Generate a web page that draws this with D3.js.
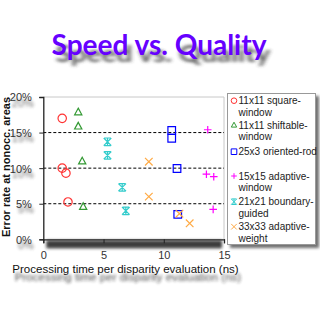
<!DOCTYPE html>
<html>
<head>
<meta charset="utf-8">
<script src="https://cdn.jsdelivr.net/npm/d3@7"></script>
<style>
  body { margin: 0; background: #fff; }
  svg { display: block; }
</style>
</head>
<body>
<div id="chart"></div>
<script>
// chart data
const seriesNames = ["11x11 square-window", "11x11 shiftable-window", "25x3 oriented-rod",
  "15x15 adaptive-window", "21x21 boundary-guided", "33x33 adaptive-weight"];
const legendLines = [["11x11 square-", "window"], ["11x11 shiftable-", "window"], ["25x3 oriented-rod", ""],
  ["15x15 adaptive-", "window"], ["21x21 boundary-", "guided"], ["33x33 adaptive-", "weight"]];
const squareWinX = [1.57, 1.57, 1.88, 2.05];
const squareWinY = [17.0, 10.0, 9.3, 5.25];
const shiftableX = [2.9, 2.9, 3.23, 3.31];
const shiftableY = [17.9, 15.9, 11.0, 4.6];
const orientedX = [10.66, 10.66, 11.1, 11.16];
const orientedY = [15.3, 14.2, 9.95, 3.5];
const adaptiveWinX = [13.65, 13.54, 14.15, 14.1];
const adaptiveWinY = [15.4, 9.15, 8.8, 4.2];
const boundaryX = [5.33, 5.33, 6.55, 6.85];
const boundaryY = [13.7, 11.8, 7.3, 4.0];
const weightX = [8.76, 8.76, 11.3, 12.15];
const weightY = [10.9, 6.0, 3.6, 2.25];
const xTicks = [0, 5, 10, 15];
const yTicks = [0, 5, 10, 15, 20];

const colors = ["#ff3333", "#339933", "#0000ff", "#ff00ff", "#33cccc", "#ffaa44"];
const xs = [squareWinX, shiftableX, orientedX, adaptiveWinX, boundaryX, weightX];
const ys = [squareWinY, shiftableY, orientedY, adaptiveWinY, boundaryY, weightY];

const W = 320, H = 320;
const plotLeft = 43.3, plotRight = 224, plotTop = 97, plotBottom = 239.3;
const font = "Liberation Sans, Arial, sans-serif";

const svg = d3.select("#chart").append("svg").attr("width", W).attr("height", H);
const defs = svg.append("defs");
const f1 = defs.append("filter").attr("id", "blur3").attr("x", "-20%").attr("y", "-50%").attr("width", "140%").attr("height", "200%");
f1.append("feGaussianBlur").attr("stdDeviation", 2.2);
const f2 = defs.append("filter").attr("id", "blur1").attr("x", "-20%").attr("y", "-50%").attr("width", "140%").attr("height", "200%");
f2.append("feGaussianBlur").attr("stdDeviation", 1.4);

const x = d3.scaleLinear().domain([0, 15]).range([plotLeft, plotRight]);
const y = d3.scaleLinear().domain([0, 20]).range([plotBottom, plotTop]);

// title with soft shadow
svg.append("text")
  .attr("x", 163).attr("y", 62)
  .attr("text-anchor", "middle")
  .attr("font-family", "Lato, sans-serif").attr("font-weight", "bold")
  .attr("font-size", 28).attr("fill", "#333")
  .attr("transform", "scale(1,0.8) translate(0,15)")
  .attr("filter", "url(#blur3)").attr("opacity", 0.8)
  .text("Speed vs. Quality");
svg.append("text")
  .attr("x", 159).attr("y", 55)
  .attr("text-anchor", "middle")
  .attr("font-family", "Lato, sans-serif").attr("font-weight", "bold")
  .attr("font-size", 28).attr("fill", "#6600ff")
  .text("Speed vs. Quality");

// plot shadow band
svg.append("rect").attr("x", plotLeft + 3).attr("y", plotBottom + 1).attr("width", plotRight - plotLeft - 5).attr("height", 8)
  .attr("fill", "#1a1a1a").attr("filter", "url(#blur1)").attr("opacity", 0.85);

// top and right border
svg.append("line").attr("x1", plotLeft).attr("x2", plotRight).attr("y1", plotTop).attr("y2", plotTop)
  .attr("stroke", "#c8c8c8").attr("stroke-width", 1);
svg.append("line").attr("x1", plotRight).attr("x2", plotRight).attr("y1", plotTop).attr("y2", plotBottom)
  .attr("stroke", "#c8c8c8").attr("stroke-width", 1);

// dashed gridlines
svg.append("g").selectAll("line").data(yTicks.filter(d => d > 0 && d < 20)).join("line")
  .attr("x1", plotLeft).attr("x2", plotRight)
  .attr("y1", d => y(d)).attr("y2", d => y(d))
  .attr("stroke", "#000").attr("stroke-dasharray", "3,2").attr("stroke-width", 1);

// axes
const yAxis = svg.append("g").attr("transform", `translate(${plotLeft},0)`)
  .call(d3.axisLeft(y).tickValues(yTicks).tickSize(4).tickFormat(d => d + "%"));
const xAxis = svg.append("g").attr("transform", `translate(0,${plotBottom})`)
  .call(d3.axisBottom(x).tickValues(xTicks).tickSize(4).tickFormat(d3.format("d")));
[xAxis, yAxis].forEach(g => {
  g.select(".domain").attr("stroke", "#222").attr("stroke-width", 1.3);
  g.selectAll(".tick line").attr("stroke", "#222");
  g.selectAll("text").attr("font-family", font)
    .attr("font-size", 11).attr("fill", "#333");
});
yAxis.selectAll("text").attr("x", -11.5).attr("dy", "0.35em");
xAxis.selectAll("text").attr("y", 12);

// blurred copies of tick labels
yAxis.selectAll(".tick").append("text").lower()
  .attr("x", -9.5).attr("y", 9).attr("text-anchor", "end")
  .attr("font-family", font).attr("font-size", 11)
  .attr("fill", "#333").attr("filter", "url(#blur1)").attr("opacity", 0.7)
  .text(d => d + "%");

// axis titles
const xTitle = "Processing time per disparity evaluation (ns)";
svg.append("text").attr("x", 128).attr("y", 281).attr("text-anchor", "middle")
  .attr("font-family", font).attr("font-size", 11.5)
  .attr("fill", "#222").attr("filter", "url(#blur1)").attr("opacity", 0.8).text(xTitle);
svg.append("text").attr("x", 125.5).attr("y", 273).attr("text-anchor", "middle")
  .attr("font-family", font).attr("font-size", 11.5)
  .attr("fill", "#111").text(xTitle);
svg.append("text").attr("transform", "translate(10,167) rotate(-90)").attr("text-anchor", "middle")
  .attr("font-family", font).attr("font-size", 11).attr("font-weight", "bold")
  .attr("fill", "#111").text("Error rate at nonocc. areas");

// marker shapes
function markerPath(i, s) {
  const h = s / 2;
  if (i === 0) return d3.symbol(d3.symbolCircle, Math.PI * h * h)();
  if (i === 1) return `M0,${-h}L${h * 0.95},${h * 0.75}L${-h * 0.95},${h * 0.75}Z`;
  if (i === 2) return `M${-h},${-h}H${h}V${h}H${-h}Z`;
  if (i === 3) return `M${-h},0H${h}M0,${-h}V${h}`;
  if (i === 4) return `M${-h},${-h}L${h},${h}M${h},${-h}L${-h},${h}M0,${-h}V${h}M${-h * 0.9},${-h}H${h * 0.9}M${-h * 0.9},${h}H${h * 0.9}`;
  return `M${-h},${-h}L${h},${h}M${h},${-h}L${-h},${h}`;
}

const marks = svg.append("g");
seriesNames.forEach((name, i) => {
  const pts = xs[i].map((v, j) => [v, ys[i][j]]);
  marks.append("g").selectAll("path").data(pts).join("path")
    .attr("transform", d => `translate(${x(d[0])},${y(d[1])})`)
    .attr("d", markerPath(i, i === 0 ? 8.4 : 7.6))
    .attr("fill", "none").attr("stroke", colors[i]).attr("stroke-width", 1.2);
});

// legend
const lg = svg.append("g");
lg.append("rect").attr("x", 230).attr("y", 96).attr("width", 89).attr("height", 152)
  .attr("fill", "#333").attr("filter", "url(#blur1)").attr("opacity", 0.7);
lg.append("rect").attr("x", 227.5).attr("y", 93.5).attr("width", 88).attr("height", 151)
  .attr("fill", "#fff").attr("stroke", "#999");
const rowY = [100.7, 125, 151.7, 176, 201.7, 226.7];
seriesNames.forEach((name, i) => {
  lg.append("path").attr("transform", `translate(234,${rowY[i]})`)
    .attr("d", markerPath(i, 5.6))
    .attr("fill", "none").attr("stroke", colors[i]).attr("stroke-width", 1);
  legendLines[i].forEach((t, k) => {
    lg.append("text").attr("x", 238.5).attr("y", rowY[i] + 3.6 + k * 11.5)
      .attr("font-family", font).attr("font-size", 10)
      .attr("fill", "#222").text(t);
  });
});
</script>
</body>
</html>
